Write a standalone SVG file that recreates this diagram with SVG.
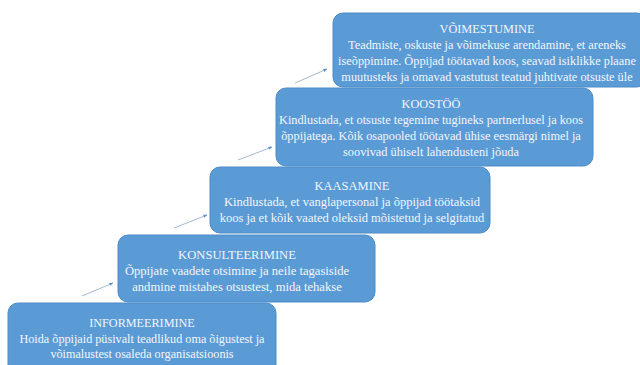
<svg xmlns="http://www.w3.org/2000/svg" width="640" height="365" viewBox="0 0 640 365">
<defs>
<style>
.box{fill:#5b9bd5;stroke:#4f8cc6;stroke-width:1}
.t{font-family:"Liberation Serif","Times New Roman",serif;fill:#f2f6fb;text-anchor:middle}
.s1{font-size:12.3px}
.s2{font-size:12.3px}
.s3{font-size:12.5px}
.s4{font-size:12.6px}
.s5{font-size:12.2px}
.c{stroke:#8da5c4;stroke-width:0.8;fill:none;marker-end:url(#ah)}
</style>
<marker id="ah" viewBox="0 0 10 10" refX="9" refY="5" markerWidth="5" markerHeight="5" orient="auto">
<path d="M0,1 L10,5 L0,9 z" fill="#5b8fc8"/>
</marker>
</defs>
<rect width="640" height="365" fill="#ffffff"/>
<g id="connectors">
<line class="c" x1="82" y1="296" x2="113" y2="283"/>
<line class="c" x1="174" y1="228" x2="207" y2="215"/>
<line class="c" x1="238" y1="160" x2="272" y2="147"/>
<line class="c" x1="295" y1="83" x2="327" y2="69"/>
</g>
<g id="n1" class="s1">
<rect class="box" x="333" y="13" width="314" height="74" rx="10"/>
<text class="t" x="487" y="33">VÕIMESTUMINE</text>
<text class="t" x="487" y="49">Teadmiste, oskuste ja võimekuse arendamine, et areneks</text>
<text class="t" x="487" y="65">iseõppimine. Õppijad töötavad koos, seavad isiklikke plaane</text>
<text class="t" x="487" y="81">muutusteks ja omavad vastutust teatud juhtivate otsuste üle</text>
</g>
<g id="n2" class="s2">
<rect class="box" x="276" y="88" width="317" height="78" rx="10"/>
<text class="t" x="431" y="108">KOOSTÖÖ</text>
<text class="t" x="431" y="124">Kindlustada, et otsuste tegemine tugineks partnerlusel ja koos</text>
<text class="t" x="431" y="140">õppijatega. Kõik osapooled töötavad ühise eesmärgi nimel ja</text>
<text class="t" x="431" y="156">soovivad ühiselt lahendusteni jõuda</text>
</g>
<g id="n3" class="s3">
<rect class="box" x="210" y="167" width="280" height="66" rx="10"/>
<text class="t" x="352" y="190">KAASAMINE</text>
<text class="t" x="352" y="206">Kindlustada, et vanglapersonal ja õppijad töötaksid</text>
<text class="t" x="352" y="222">koos ja et kõik vaated oleksid mõistetud ja selgitatud</text>
</g>
<g id="n4" class="s4">
<rect class="box" x="118" y="235" width="257" height="67" rx="10"/>
<text class="t" x="237" y="259">KONSULTEERIMINE</text>
<text class="t" x="237" y="275">Õppijate vaadete otsimine ja neile tagasiside</text>
<text class="t" x="237" y="291">andmine mistahes otsustest, mida tehakse</text>
</g>
<g id="n5" class="s5">
<rect class="box" x="8" y="303" width="268" height="75" rx="10"/>
<text class="t" x="142" y="327">INFORMEERIMINE</text>
<text class="t" x="142" y="343">Hoida õppijaid püsivalt teadlikud oma õigustest ja</text>
<text class="t" x="142" y="358">võimalustest osaleda organisatsioonis</text>
</g>
</svg>
